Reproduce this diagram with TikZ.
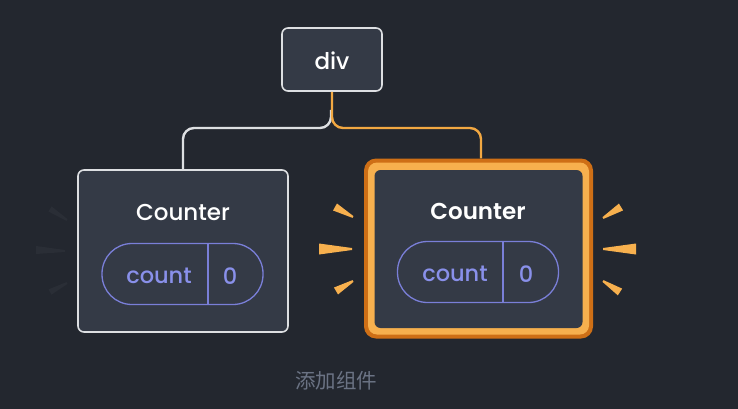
\documentclass[tikz,border=0pt]{standalone}
\usepackage{fontspec}
\setmainfont{Poppins}[UprightFont = * Medium, BoldFont = * SemiBold]
\newfontfamily\cjk{Noto Sans CJK SC}
\usetikzlibrary{calc}
\definecolor{bg}{HTML}{23272F}
\definecolor{boxfill}{HTML}{343A46}
\definecolor{edge}{HTML}{DDDFE2}
\definecolor{pill}{HTML}{7A7FD8}
\definecolor{pilltext}{HTML}{8990EA}
\definecolor{orangedark}{HTML}{CE6F16}
\definecolor{orangelight}{HTML}{F7B04E}
\definecolor{wire}{HTML}{F2A842}
\definecolor{caption}{HTML}{6B7384}
\definecolor{ghost}{HTML}{2A2E36}
\newcommand{\myray}[4]{% base, tip, half width, colour
  \fill[#4] ($(#1)!#3!90:(#2)$) -- ($(#2)!1pt!-90:(#1)$) -- ($(#2)!1pt!90:(#1)$) -- ($(#1)!#3!-90:(#2)$) -- cycle;}
\begin{document}
\begin{tikzpicture}[x=1pt,y=-1pt,
  boxnode/.style={draw=edge, line width=1.6pt, fill=boxfill, rounded corners=6pt, inner sep=0pt},
  pillnode/.style={draw=pill, line width=1.3pt, rounded corners=30pt, inner sep=0pt, minimum width=161pt, minimum height=61pt},
  title/.style={text=white, font=\fontsize{23}{27}\selectfont, inner sep=0pt},
  pilltxt/.style={text=pilltext, font=\fontsize{22.5}{27}\selectfont, inner sep=0pt},
  wirewhite/.style={draw=edge, line width=2.4pt, rounded corners=11pt},
  wireorange/.style={draw=wire, line width=2.4pt, rounded corners=11pt}]
\fill[bg] (0,0) rectangle (738,409);
\useasboundingbox (0,0) rectangle (738,409);
\coordinate (hy) at (0,128);
\coordinate (d1) at (208,0);
\coordinate (d2) at (503,0);

% div
\node[boxnode, minimum width=100pt, minimum height=63pt] (div) at (332,59.5) {};
\node[title] (divt) at (332,61) {div};

% left Counter
\node[boxnode, minimum width=210pt, minimum height=162pt] (lc) at (183,251) {};
\node[title] (lct) at (183,213) {Counter};
\node[pillnode] (lp) at (182.5,274) {};
\draw[pill, line width=1.3pt] (lp.north -| d1) -- (lp.south -| d1);
\node[pilltxt] (lcount) at (159,276) {count};
\node[pilltxt] (lzero) at (230,276) {0};

% right Counter (highlighted)
\node[fill=orangedark, rounded corners=12pt, minimum width=229pt, minimum height=180pt, inner sep=0pt] (rc) at (478.5,248.5) {};
\node[fill=orangelight, rounded corners=9pt, minimum width=221pt, minimum height=172pt, inner sep=0pt] (rcl) at (478.5,248.5) {};
\node[fill=boxfill, rounded corners=6pt, minimum width=208pt, minimum height=158pt, inner sep=0pt] (rci) at (478.5,249) {};
\node[title, font=\fontsize{23}{27}\selectfont\bfseries] (rct) at (478,211) {Counter};
\node[pillnode] (rp) at (478,272) {};
\draw[pill, line width=1.3pt] (rp.north -| d2) -- (rp.south -| d2);
\node[pilltxt] (rcount) at (455,274) {count};
\node[pilltxt] (rzero) at (526,274) {0};

% connectors
\draw[wirewhite] ($(div.south)+(-1,18)$) -- ($(div.south |- hy)+(-1,0)$) -- (lc.north |- hy) -- (lc.north);
\draw[wireorange] (div.south) -- (div.south |- hy) -- ($(rc.north |- hy)+(2.5,0)$) -- ($(rc.north)+(2.5,0)$);

% rays around the highlighted box
\myray{335,207}{353,217}{4pt}{orangelight}
\myray{319,249}{352,249}{5.5pt}{orangelight}
\myray{336,291}{353,281}{4pt}{orangelight}
\myray{621,207}{603,218}{4pt}{orangelight}
\myray{636,249}{603,249}{5.5pt}{orangelight}
\myray{620,292}{603,281}{4pt}{orangelight}

% faint rays left of the left box
\myray{50,209}{67,220}{3pt}{ghost}
\myray{36,250}{65,251}{4pt}{ghost}
\myray{50,292}{67,283}{3pt}{ghost}

% caption
\node[text=caption, font=\cjk\fontsize{20.5}{24}\selectfont, inner sep=0pt] (cap) at (336,381) {添加组件};
\end{tikzpicture}
\end{document}
